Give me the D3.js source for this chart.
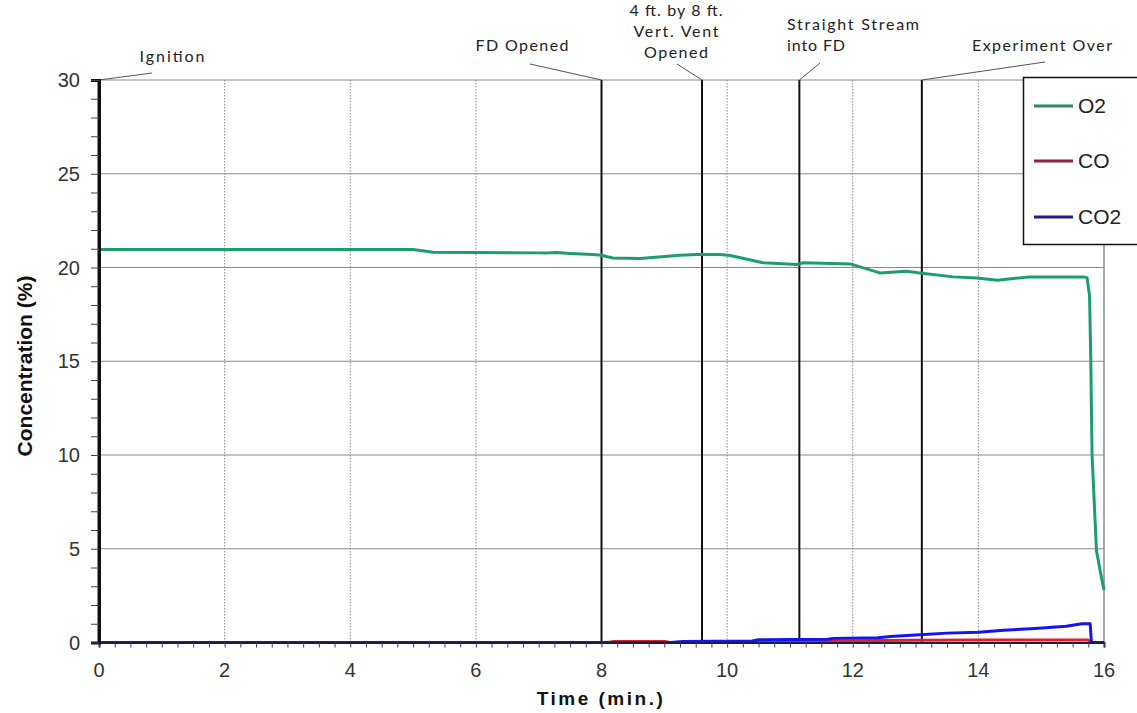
<!DOCTYPE html>
<html>
<head>
<meta charset="utf-8">
<script src="https://cdn.jsdelivr.net/npm/d3@7"></script>
<style>
  html, body { margin: 0; padding: 0; background: #fff; }
  svg { display: block; }
</style>
</head>
<body>
<svg id="chart" width="1137" height="713"></svg>
<script>
// ---------------- DATA ----------------
const o2Time = [0, 5.0, 5.32, 7.0, 7.13, 7.29, 7.5, 7.86, 8.0, 8.18, 8.61, 9.25, 9.52, 9.89, 10.05, 10.57, 11.11, 11.21, 11.96, 12.43, 12.86, 13.07, 13.6, 13.98, 14.3, 14.82, 15.67, 15.73, 15.77, 15.79, 15.81, 15.88, 15.94, 16.0];
const o2Value = [20.96, 20.96, 20.81, 20.78, 20.78, 20.8, 20.75, 20.69, 20.65, 20.51, 20.48, 20.65, 20.69, 20.69, 20.64, 20.25, 20.16, 20.25, 20.19, 19.71, 19.80, 19.71, 19.50, 19.44, 19.32, 19.50, 19.50, 19.46, 18.5, 15.0, 10.0, 4.9, 3.8, 2.8];

const coTime = [0, 8.1, 8.2, 9.0, 9.1, 9.5, 10.5, 11.0, 12.0, 13.0, 14.0, 15.75, 15.78, 16.0];
const coValue = [0, 0, 0.05, 0.05, 0, 0.02, 0.05, 0.08, 0.1, 0.12, 0.13, 0.13, 0, 0];

const co2Time = [0, 9.1, 9.3, 10.4, 10.5, 11.6, 11.7, 12.4, 12.6, 13.0, 13.5, 14.0, 14.4, 14.9, 15.4, 15.65, 15.78, 15.8, 16.0];
const co2Value = [0, 0, 0.06, 0.08, 0.15, 0.17, 0.22, 0.25, 0.32, 0.4, 0.5, 0.55, 0.65, 0.75, 0.87, 1.0, 1.0, 0.0, 0];

const seriesNames = ["O2", "CO", "CO2"];

const xTicks = [0, 2, 4, 6, 8, 10, 12, 14, 16];
const yTicks = [0, 5, 10, 15, 20, 25, 30];

const eventTimes = [0, 8, 9.6, 11.15, 13.1];
const eventLabels = [["Ignition"], ["FD Opened"], ["4 ft. by 8 ft.", "Vert. Vent", "Opened"], ["Straight Stream", "into FD"], ["Experiment Over"]];

// ---------------- LAYOUT / STYLE ----------------
const plot = { left: 99, right: 1104, top: 80, bottom: 642.5 };
const lineColors = ["#1c9e6c", "#e02222", "#1414f0"];
const legendColors = ["#2a8a68", "#8a2448", "#1e1e8a"];
// label layout: per event, anchor x, text-anchor, line y-centres, target widths, leader end point
const eventLayout = [
  { x: 172, anchor: "middle", ys: [56], widths: [65], leader: [152, 73] },
  { x: 522, anchor: "middle", ys: [45], widths: [93], leader: [530, 64] },
  { x: 676, anchor: "middle", ys: [10, 31, 52], widths: [93, 85, 64], leader: [677, 64] },
  { x: 787, anchor: "start", ys: [24, 45], widths: [132, 58], leader: [820, 63] },
  { x: 1042, anchor: "middle", ys: [45], widths: [140], leader: [1045, 62] }
];

const svg = d3.select("#chart");
svg.append("rect").attr("width", 1137).attr("height", 713).attr("fill", "#fff");

const x = d3.scaleLinear().domain([0, 16]).range([plot.left, plot.right]);
const y = d3.scaleLinear().domain([0, 30]).range([plot.bottom, plot.top]);

// horizontal grid
svg.append("g").selectAll("line").data(yTicks.filter(d => d > 0)).join("line")
  .attr("x1", plot.left).attr("x2", plot.right)
  .attr("y1", d => y(d)).attr("y2", d => y(d))
  .attr("stroke", "#8a8a8a").attr("stroke-width", 1.2);

// vertical dotted grid
svg.append("g").selectAll("line").data(xTicks.filter(d => d > 0 && d < 16)).join("line")
  .attr("x1", d => x(d)).attr("x2", d => x(d))
  .attr("y1", plot.top).attr("y2", plot.bottom)
  .attr("stroke", "#8a8a8a").attr("stroke-width", 1).attr("stroke-dasharray", "1.5,1.5");

// right border
svg.append("line").attr("x1", x(16)).attr("x2", x(16)).attr("y1", plot.top).attr("y2", plot.bottom)
  .attr("stroke", "#8a8a8a").attr("stroke-width", 1.5);

// event lines
svg.append("g").selectAll("line").data(eventTimes).join("line")
  .attr("x1", d => x(d)).attr("x2", d => x(d))
  .attr("y1", plot.top).attr("y2", plot.bottom)
  .attr("stroke", "#111").attr("stroke-width", (d, i) => i === 0 ? 3 : 2);

// leader lines and labels
const ann = svg.append("g");
eventTimes.forEach((t, i) => {
  const L = eventLayout[i];
  ann.append("line")
    .attr("x1", x(t)).attr("y1", plot.top)
    .attr("x2", L.leader[0]).attr("y2", L.leader[1])
    .attr("stroke", "#555").attr("stroke-width", 1);
  eventLabels[i].forEach((txt, j) => {
    ann.append("text")
      .attr("x", L.x).attr("y", L.ys[j])
      .attr("dy", "0.35em")
      .attr("text-anchor", L.anchor)
      .attr("font-family", "Lato, 'Open Sans', sans-serif")
      .attr("font-size", 16)
      .attr("fill", "#222")
      .attr("textLength", L.widths[j])
      .attr("lengthAdjust", "spacing")
      .text(txt);
  });
});

// data lines
const line = d3.line().x(d => x(d[0])).y(d => y(d[1]));
const series = [
  d3.zip(o2Time, o2Value),
  d3.zip(coTime, coValue),
  d3.zip(co2Time, co2Value)
];
// draw CO first, then CO2, then O2
[1, 2, 0].forEach(i => {
  svg.append("path").datum(series[i])
    .attr("d", line)
    .attr("fill", "none")
    .attr("stroke", lineColors[i])
    .attr("stroke-width", 3)
    .attr("stroke-linejoin", "round");
});

// x axis
const xMinor = d3.range(0, 16.001, 0.25);
const xAxis = svg.append("g").attr("transform", `translate(0,${plot.bottom})`)
  .call(d3.axisBottom(x).tickValues(xMinor).tickSize(5).tickFormat(""));
xAxis.select(".domain").attr("stroke", "#1a1a5a").attr("stroke-width", 2);
xAxis.selectAll(".tick line").attr("stroke", "#444");

svg.append("g").selectAll("text").data(xTicks).join("text")
  .attr("x", d => x(d)).attr("y", 670).attr("dy", "0.35em")
  .attr("text-anchor", "middle")
  .attr("font-family", "'Liberation Sans', Arial, sans-serif")
  .attr("font-size", 20).attr("fill", "#333")
  .text(d => d);

// y axis
const yMinor = d3.range(0, 30.001, 1);
const yAxis = svg.append("g").attr("transform", `translate(${plot.left},0)`)
  .call(d3.axisLeft(y).tickValues(yMinor).tickSize(8).tickFormat(""));
yAxis.select(".domain").attr("stroke", "#111").attr("stroke-width", 3);
yAxis.selectAll(".tick line").attr("stroke", "#444");

svg.append("g").selectAll("text").data(yTicks).join("text")
  .attr("x", 80).attr("y", d => y(d)).attr("dy", "0.35em")
  .attr("text-anchor", "end")
  .attr("font-family", "'Liberation Sans', Arial, sans-serif")
  .attr("font-size", 20).attr("fill", "#333")
  .text(d => d);

// axis titles
svg.append("text")
  .attr("x", 601).attr("y", 698).attr("dy", "0.35em")
  .attr("text-anchor", "middle")
  .attr("font-family", "'Liberation Sans', Arial, sans-serif")
  .attr("font-size", 19).attr("font-weight", "bold").attr("fill", "#111")
  .attr("letter-spacing", 2.5)
  .text("Time (min.)");

svg.append("text")
  .attr("transform", "translate(25,366) rotate(-90)")
  .attr("dy", "0.35em")
  .attr("text-anchor", "middle")
  .attr("font-family", "'Liberation Sans', Arial, sans-serif")
  .attr("font-size", 21).attr("font-weight", "bold").attr("fill", "#111")
  .text("Concentration (%)");

// legend
const lg = svg.append("g");
lg.append("rect").attr("x", 1023.5).attr("y", 77.5).attr("width", 130).attr("height", 167)
  .attr("fill", "#fff").attr("stroke", "#111").attr("stroke-width", 1.5);
const legendYs = [106, 161, 217];
seriesNames.forEach((name, i) => {
  lg.append("line").attr("x1", 1034).attr("x2", 1073)
    .attr("y1", legendYs[i]).attr("y2", legendYs[i])
    .attr("stroke", legendColors[i]).attr("stroke-width", 3);
  lg.append("text").attr("x", 1078).attr("y", legendYs[i]).attr("dy", "0.35em")
    .attr("font-family", "'Liberation Sans', Arial, sans-serif")
    .attr("font-size", 21).attr("fill", "#222")
    .text(name);
});
</script>
</body>
</html>
